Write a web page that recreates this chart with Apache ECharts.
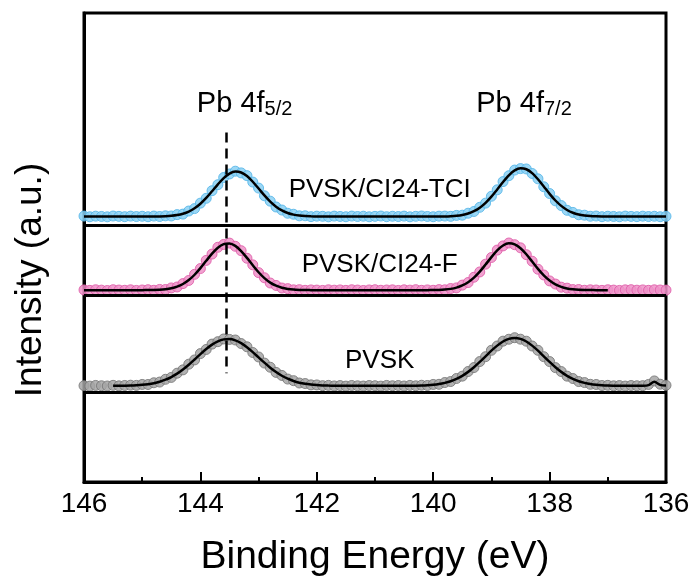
<!DOCTYPE html>
<html>
<head>
<meta charset="utf-8">
<script src="https://cdn.jsdelivr.net/npm/echarts@6/dist/echarts.min.js"></script>
<style>
  html, body { margin: 0; padding: 0; background: #ffffff; }
  #chart { width: 697px; height: 583px; }
</style>
</head>
<body>
<div id="chart"></div>
<script>
// Binding energy grid (eV), shared by every spectrum
const energy = [
  146.0,145.9,145.8,145.7,145.6,145.5,145.4,145.3,145.2,145.1,
  145.0,144.9,144.8,144.7,144.6,144.5,144.4,144.3,144.2,144.1,
  144.0,143.9,143.8,143.7,143.6,143.5,143.4,143.3,143.2,143.1,
  143.0,142.9,142.8,142.7,142.6,142.5,142.4,142.3,142.2,142.1,
  142.0,141.9,141.8,141.7,141.6,141.5,141.4,141.3,141.2,141.1,
  141.0,140.9,140.8,140.7,140.6,140.5,140.4,140.3,140.2,140.1,
  140.0,139.9,139.8,139.7,139.6,139.5,139.4,139.3,139.2,139.1,
  139.0,138.9,138.8,138.7,138.6,138.5,138.4,138.3,138.2,138.1,
  138.0,137.9,137.8,137.7,137.6,137.5,137.4,137.3,137.2,137.1,
  137.0,136.9,136.8,136.7,136.6,136.5,136.4,136.3,136.2,136.1,
  136.0
];

// PVSK/CI24-TCI : measured (normalised) and fitted intensity
const tciData = [
  0.010,-0.005,0.008,0.002,-0.006,0.011,0.004,-0.003,0.009,0.000,
  0.006,-0.004,0.010,0.001,0.015,0.012,0.041,0.052,0.118,0.170,
  0.286,0.389,0.551,0.679,0.832,0.908,0.967,0.931,0.872,0.735,
  0.607,0.443,0.328,0.204,0.139,0.070,0.049,0.015,0.016,-0.002,
  0.008,0.005,-0.006,0.009,0.002,-0.004,0.010,0.001,0.007,-0.005,
  0.004,0.011,-0.003,0.006,0.000,0.009,-0.006,0.005,0.012,0.002,
  -0.004,0.008,0.010,0.004,0.024,0.029,0.071,0.108,0.197,0.286,
  0.432,0.570,0.745,0.871,0.991,1.022,1.015,0.918,0.804,0.635,
  0.491,0.335,0.234,0.133,0.088,0.038,0.029,0.006,0.011,-0.003,
  0.007,0.002,-0.005,0.010,0.003,-0.002,0.008,0.000,0.006,-0.004,
  0.005
];
const tciFit = [
  0,0,0,0,0,0,0,0,0,0,
  0,0,0.001,0.003,0.007,0.016,0.032,0.060,0.106,0.176,
  0.273,0.396,0.539,0.686,0.819,0.916,0.959,0.940,0.863,0.742,
  0.598,0.451,0.319,0.211,0.131,0.076,0.041,0.021,0.010,0.005,
  0.002,0.001,0,0,0,0,0,0,0,0,
  0,0,0,0,0,0,0,0,0,0,
  0.001,0.001,0.003,0.008,0.017,0.034,0.064,0.114,0.189,0.293,
  0.424,0.578,0.737,0.879,0.983,1.029,1.008,0.926,0.796,0.642,
  0.484,0.342,0.227,0.140,0.081,0.044,0.023,0.011,0.005,0.002,
  0.001,0,0,0,0,0,0,0,0,0,
  0
];

// PVSK/CI24-F
const fData = [
  0.006,-0.004,0.009,0.001,-0.007,0.010,0.003,-0.002,0.008,-0.005,
  0.004,0.010,-0.002,0.016,0.014,0.048,0.068,0.140,0.207,0.338,
  0.461,0.635,0.770,0.915,0.975,1.004,0.936,0.842,0.681,0.540,
  0.374,0.265,0.153,0.101,0.046,0.033,0.007,0.011,-0.003,0.006,
  0.002,-0.005,0.008,0.000,0.006,-0.004,0.009,0.003,-0.006,0.005,
  0.010,-0.002,0.004,0.007,-0.005,0.008,0.001,0.011,-0.003,0.006,
  -0.002,0.012,0.008,0.035,0.049,0.108,0.163,0.276,0.389,0.555,
  0.697,0.855,0.944,1.006,0.970,0.903,0.757,0.618,0.447,0.324,
  0.198,0.131,0.064,0.043,0.013,0.014,-0.002,0.008,0.004,-0.004,
  0.009,0.002,-0.005,0.007,0.011,0.000,0.006,-0.003,0.008,0.004,
  0.002
];
const fFit = [
  0,0,0,0,0,0,0,0,0,0,
  0.001,0.002,0.004,0.009,0.020,0.040,0.075,0.131,0.215,0.329,
  0.470,0.626,0.779,0.906,0.983,0.997,0.944,0.834,0.689,0.531,
  0.382,0.257,0.161,0.095,0.052,0.027,0.013,0.006,0.002,0.001,
  0,0,0,0,0,0,0,0,0,0,
  0,0,0,0,0,0,0,0,0,0.001,
  0.003,0.006,0.014,0.028,0.055,0.100,0.170,0.268,0.396,0.547,
  0.704,0.847,0.952,0.999,0.978,0.895,0.765,0.610,0.454,0.316,
  0.205,0.125,0.071,0.037,0.019,0.009,0.004,0.002,0.001,0,
  0,null,null,null,null,null,null,null,null,null,
  null
];

// PVSK (reference film)
const pvskData = [
  0.004,-0.006,0.009,0.002,-0.003,0.011,0.000,0.008,0.014,0.010,
  0.030,0.029,0.066,0.081,0.140,0.180,0.270,0.341,0.462,0.553,
  0.688,0.776,0.890,0.942,1.000,0.990,0.978,0.902,0.833,0.711,
  0.616,0.486,0.397,0.287,0.222,0.145,0.111,0.061,0.049,0.021,
  0.020,0.004,0.010,-0.002,0.006,-0.005,0.008,0.001,-0.004,0.007,
  0.003,-0.006,0.009,0.002,0.007,-0.003,0.010,0.001,0.013,0.008,
  0.030,0.033,0.071,0.092,0.157,0.207,0.306,0.390,0.518,0.622,
  0.758,0.850,0.953,0.994,1.027,0.995,0.952,0.850,0.758,0.622,
  0.518,0.389,0.305,0.207,0.156,0.092,0.070,0.033,0.029,0.007,
  0.011,0.000,0.006,-0.004,0.007,0.002,0.004,0.030,0.105,0.035,
  0.012
];
const pvskFit = [
  null,null,null,null,null,0.001,0.002,0.004,0.007,0.013,
  0.022,0.036,0.057,0.088,0.131,0.188,0.261,0.349,0.451,0.562,
  0.676,0.784,0.879,0.950,0.991,0.998,0.970,0.910,0.824,0.720,
  0.607,0.494,0.388,0.295,0.215,0.152,0.104,0.068,0.043,0.027,
  0.016,0.009,0.005,0.003,0.001,0,0,0,0,0,
  0,0,0,0,0.001,0.001,0.002,0.004,0.007,0.013,
  0.023,0.039,0.064,0.099,0.149,0.214,0.298,0.397,0.510,0.630,
  0.750,0.858,0.945,1.001,1.020,1.001,0.945,0.858,0.750,0.630,
  0.510,0.397,0.298,0.214,0.149,0.099,0.064,0.039,0.023,0.013,
  0.007,0.004,0.002,0.001,0.001,0,0.001,0.015,0.085,0.020,
  0.005
];

// Tick labels along the energy axis
const energyTicks = [146, 144, 142, 140, 138, 136];

// Vertical stacking of the three panels
const OFFSET_TCI = 5.66, OFFSET_F = 4.09, OFFSET_PVSK = 2.05;
const DIVIDERS = [5.48, 3.985, 1.913];
const PEAK_LINE_E = 143.55;

const FONT = 'Arial, "Liberation Sans", Helvetica, sans-serif';

function toPoints(vals, offset) {
  const pts = [];
  vals.forEach((v, i) => { if (v !== null) pts.push([energy[i], offset + v]); });
  return pts;
}

function scatterSeries(name, vals, offset, fill, edge) {
  return {
    name, type: 'scatter', data: toPoints(vals, offset),
    symbol: 'circle', symbolSize: 10, z: 2, silent: true,
    itemStyle: { color: fill, borderColor: edge, borderWidth: 1, opacity: 0.85 }
  };
}
function fitSeries(name, vals, offset) {
  return {
    name, type: 'line', data: toPoints(vals, offset),
    showSymbol: false, smooth: 0.3, z: 3, silent: true,
    lineStyle: { color: '#000', width: 2.5 }
  };
}

const chart = echarts.init(document.getElementById('chart'), null, { renderer: 'canvas' });
chart.setOption({
  animation: false,
  backgroundColor: '#fff',
  grid: {
    left: 84, right: 31, top: 13, bottom: 101,
    show: true, borderColor: '#000', borderWidth: 3, backgroundColor: 'transparent'
  },
  xAxis: {
    type: 'value', min: 136, max: 146, interval: 2, inverse: true,
    name: 'Binding Energy (eV)', nameLocation: 'middle', nameGap: 56,
    nameTextStyle: { fontSize: 39, fontFamily: FONT, color: '#000' },
    axisLine: { show: true, lineStyle: { color: '#000', width: 3 } },
    axisTick: { show: true, inside: true, length: 10, lineStyle: { color: '#000', width: 2 } },
    minorTick: { show: true, splitNumber: 2, length: 5, lineStyle: { color: '#000', width: 2 } },
    splitLine: { show: false },
    axisLabel: {
      fontSize: 28, fontFamily: FONT, color: '#000', margin: 8,
      formatter: (v) => energyTicks.includes(v) ? String(v) : ''
    }
  },
  yAxis: {
    type: 'value', min: 0, max: 10,
    axisLine: { show: true, lineStyle: { color: '#000', width: 3 } },
    axisTick: { show: false }, axisLabel: { show: false }, splitLine: { show: false }
  },
  series: [
    scatterSeries('PVSK/CI24-TCI', tciData, OFFSET_TCI, '#8ad0f3', '#55b5e8'),
    fitSeries('PVSK/CI24-TCI fit', tciFit, OFFSET_TCI),
    scatterSeries('PVSK/CI24-F', fData, OFFSET_F, '#ee92c8', '#de5ca8'),
    fitSeries('PVSK/CI24-F fit', fFit, OFFSET_F),
    scatterSeries('PVSK', pvskData, OFFSET_PVSK, '#a5a5a5', '#777777'),
    fitSeries('PVSK fit', pvskFit, OFFSET_PVSK),
    {
      name: 'frame', type: 'line', data: [], z: 4, silent: true,
      markLine: {
        silent: true, symbol: 'none', label: { show: false },
        lineStyle: { color: '#000', width: 3, type: 'solid' },
        data: DIVIDERS.map(y => ({ yAxis: y })).concat([[
          { coord: [PEAK_LINE_E, 7.45], lineStyle: { type: [10, 6], width: 2.5, color: '#000' } },
          { coord: [PEAK_LINE_E, 2.32] }
        ]])
      }
    }
  ]
});

// Text annotations, anchored in data coordinates
const annotations = [
  { at: [143.24, 8.05], text: '{m|Pb 4f}{s|5/2}' },
  { at: [138.44, 8.05], text: '{m|Pb 4f}{s|7/2}' },
  { at: [140.92, 6.22], text: '{n|PVSK/CI24-TCI}' },
  { at: [140.92, 4.63], text: '{n|PVSK/CI24-F}' },
  { at: [140.92, 2.58], text: '{n|PVSK}' }
];
const rich = {
  m: { fontSize: 29, lineHeight: 30, fontFamily: FONT, fill: '#000', color: '#000' },
  s: { fontSize: 20, lineHeight: 12, verticalAlign: 'bottom', fontFamily: FONT, fill: '#000', color: '#000' },
  n: { fontSize: 26, lineHeight: 28, fontFamily: FONT, fill: '#000', color: '#000' }
};
const graphics = annotations.map(a => {
  const p = chart.convertToPixel({ gridIndex: 0 }, a.at);
  return {
    type: 'text', x: p[0], y: p[1], silent: true, z: 10,
    style: { text: a.text, rich, fill: '#000', align: 'center', verticalAlign: 'middle' }
  };
});
graphics.push({
  type: 'text', x: 31, y: 280, rotation: Math.PI / 2, silent: true,
  style: {
    text: 'Intensity (a.u.)', fontSize: 37, fontFamily: FONT, fill: '#000',
    align: 'center', verticalAlign: 'middle'
  }
});
chart.setOption({ graphic: graphics });
</script>
</body>
</html>
